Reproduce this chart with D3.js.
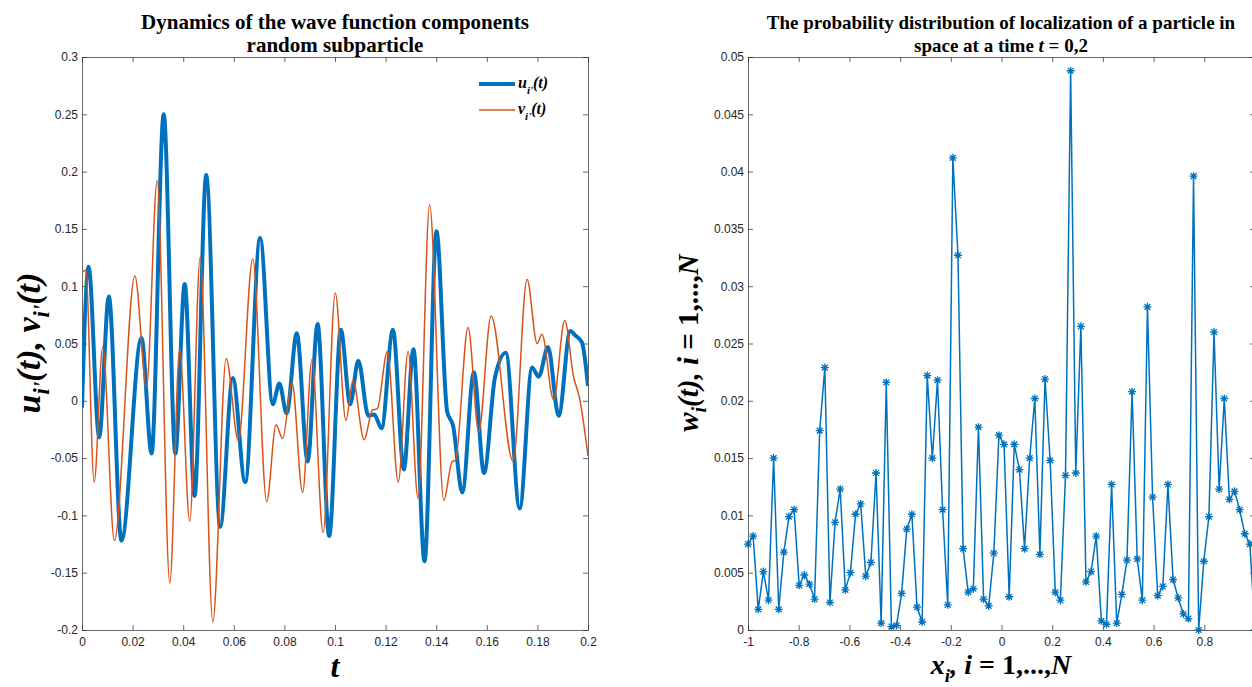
<!DOCTYPE html>
<html>
<head>
<meta charset="utf-8">
<script src="https://cdn.jsdelivr.net/npm/d3@7"></script>
<style>
    body { margin: 0; background: #fff; }
    svg { display: block; }
    .tick text { font-family: "Liberation Sans", Arial, sans-serif; font-size: 12px; fill: #262626; }
    .tick line, .domain { stroke: #262626; stroke-width: 0.7; }
    .serif { font-family: "Liberation Serif", "Times New Roman", serif; font-weight: bold; fill: #000; }
</style>
</head>
<body>
<svg id="chart" width="1252" height="687"></svg>
<script>
// left panel: u and v components (extrema)
var uT = [0, 0.0026, 0.0068, 0.0106, 0.0156, 0.0235, 0.0275, 0.0323, 0.0369, 0.0406, 0.0445, 0.0491,
          0.0546, 0.0596, 0.0645, 0.0704, 0.0754, 0.078, 0.0809, 0.0849, 0.0892, 0.0931, 0.0977, 0.1023,
          0.106, 0.1092, 0.1132, 0.1155, 0.1184, 0.1229, 0.1272, 0.1310, 0.1354, 0.1401, 0.1443, 0.1467,
          0.1503, 0.1549, 0.1589, 0.1632, 0.1675, 0.173, 0.1779, 0.1805, 0.1842, 0.1884, 0.193, 0.195,
          0.1976, 0.2];
var uV = [-0.006, 0.117, -0.032, 0.091, -0.122, 0.055, -0.046, 0.25, -0.046, 0.102, -0.083, 0.197,
          -0.110, 0.020, -0.071, 0.142, -0.003, 0.015, -0.011, 0.059, -0.053, 0.067, -0.118, 0.062,
          -0.003, 0.035, -0.013, -0.012, -0.024, 0.062, -0.060, 0.045, -0.140, 0.148, -0.009, -0.022,
          -0.080, 0.025, -0.063, 0.020, 0.042, -0.094, 0.029, 0.021, 0.047, -0.013, 0.061, 0.057,
          0.051, 0.013];

var vT = [0, 0.0015, 0.0048, 0.0082, 0.0128, 0.0209, 0.0255, 0.0297, 0.0347, 0.0386, 0.0426, 0.0467,
          0.0517, 0.057, 0.0618, 0.0675, 0.073, 0.0767, 0.0793, 0.083, 0.0872, 0.0909, 0.0953, 0.1001,
          0.1043, 0.1071, 0.1115, 0.1148, 0.1167, 0.1207, 0.125, 0.1289, 0.1328, 0.1374, 0.143, 0.1463,
          0.1476, 0.1526, 0.1568, 0.1617, 0.1704, 0.1759, 0.1799, 0.1818, 0.1864, 0.1908, 0.1943, 0.1966,
          0.2];
var vV = [0.112, 0.114, -0.071, 0.047, -0.122, 0.109, 0.012, 0.192, -0.159, 0.045, -0.105, 0.125,
          -0.193, 0.037, -0.035, 0.124, -0.088, -0.021, -0.033, 0.016, -0.080, 0.036, -0.115, 0.094,
          -0.017, 0.018, -0.034, -0.008, -0.007, 0.043, -0.071, 0.043, -0.085, 0.171, -0.087, -0.053,
          -0.052, 0.064, -0.027, 0.074, -0.053, 0.106, 0.050, 0.058, 0.001, 0.070, 0.021, 0.003,
          -0.048];

// right panel: probability at N = 100 grid points on [-1, 1]
var N = 100;
var wV = [0.0075, 0.0082, 0.0018, 0.0051, 0.0026, 0.0150, 0.0018, 0.0068, 0.0099, 0.0105,
          0.0039, 0.0048, 0.0040, 0.0027, 0.0174, 0.0229, 0.0024, 0.0094, 0.0123, 0.0035,
          0.0050, 0.0101, 0.0110, 0.0047, 0.0059, 0.0137, 0.0006, 0.0216, 0.0003, 0.0004,
          0.0032, 0.0088, 0.0101, 0.0020, 0.0007, 0.0222, 0.0150, 0.0218, 0.0105, 0.0022,
          0.0412, 0.0327, 0.0071, 0.0033, 0.0036, 0.0177, 0.0027, 0.0021, 0.0067, 0.0170,
          0.0162, 0.0029, 0.0162, 0.0140, 0.0071, 0.0150, 0.0202, 0.0066, 0.0219, 0.0148,
          0.0033, 0.0026, 0.0135, 0.0488, 0.0137, 0.0265, 0.0042, 0.0051, 0.0082, 0.0008,
          0.0005, 0.0127, 0.0006, 0.0031, 0.0061, 0.0208, 0.0062, 0.0026, 0.0282, 0.0116,
          0.0030, 0.0038, 0.0127, 0.0044, 0.0028, 0.0014, 0.0010, 0.0396, 0.0000, 0.0060,
          0.0099, 0.0260, 0.0123, 0.0202, 0.0114, 0.0121, 0.0105, 0.0084, 0.0075, 0.0000];
var wX = d3.range(N).map(function (i) { return -1 + 2 * i / (N - 1); });

var leftXTicks = [0, 0.02, 0.04, 0.06, 0.08, 0.1, 0.12, 0.14, 0.16, 0.18, 0.2];
var leftYTicks = [-0.2, -0.15, -0.1, -0.05, 0, 0.05, 0.1, 0.15, 0.2, 0.25, 0.3];
var rightXTicks = [-1, -0.8, -0.6, -0.4, -0.2, 0, 0.2, 0.4, 0.6, 0.8];
var rightYTicks = [0, 0.005, 0.01, 0.015, 0.02, 0.025, 0.03, 0.035, 0.04, 0.045, 0.05];

var blue = '#0072BD', orange = '#D95319';

var svg = d3.select('#chart');

function fmt(d) {
    return String(+d.toFixed(4)).replace('\u2212', '-');
}

// axes box with inward ticks on all sides
function drawAxes(x, y, xt, yt, id) {
    var g = svg.append('g');
    var x0 = x.range()[0], x1 = x.range()[1], y0 = y.range()[0], y1 = y.range()[1];

    g.append('g').attr('transform', 'translate(0,' + y0 + ')')
        .call(d3.axisBottom(x).tickValues(xt).tickSizeInner(-5).tickSizeOuter(0).tickPadding(7).tickFormat(fmt));
    g.append('g').attr('transform', 'translate(0,' + y1 + ')')
        .call(d3.axisTop(x).tickValues(xt).tickSizeInner(-5).tickSizeOuter(0).tickFormat(''));
    g.append('g').attr('transform', 'translate(' + x0 + ',0)')
        .call(d3.axisLeft(y).tickValues(yt).tickSizeInner(-5).tickSizeOuter(0).tickPadding(4).tickFormat(fmt));
    g.append('g').attr('transform', 'translate(' + x1 + ',0)')
        .call(d3.axisRight(y).tickValues(yt).tickSizeInner(-5).tickSizeOuter(0).tickFormat(''));

    svg.append('clipPath').attr('id', id)
        .append('rect')
        .attr('x', x0).attr('y', y1)
        .attr('width', x1 - x0).attr('height', y0 - y1);
    return g;
}

// ---------- left panel ----------
var xL = d3.scaleLinear().domain([0, 0.2]).range([82, 588]);
var yL = d3.scaleLinear().domain([-0.2, 0.3]).range([630, 57]);
drawAxes(xL, yL, leftXTicks, leftYTicks, 'clipL');

var lineL = d3.line()
    .x(function (d) { return xL(d[0]); })
    .y(function (d) { return yL(d[1]); })
    .curve(d3.curveMonotoneX);

svg.append('path')
    .datum(uT.map(function (t, i) { return [t, uV[i]]; }))
    .attr('clip-path', 'url(#clipL)')
    .attr('d', lineL)
    .attr('fill', 'none')
    .attr('stroke', blue)
    .attr('stroke-width', 4);

svg.append('path')
    .datum(vT.map(function (t, i) { return [t, vV[i]]; }))
    .attr('clip-path', 'url(#clipL)')
    .attr('d', lineL)
    .attr('fill', 'none')
    .attr('stroke', orange)
    .attr('stroke-width', 1.5);

// legend
var legend = [{name: 'u', color: blue, w: 4, y: 84}, {name: 'v', color: orange, w: 1.5, y: 110}];
legend.forEach(function (l) {
    svg.append('line')
        .attr('x1', 479).attr('x2', 515)
        .attr('y1', l.y).attr('y2', l.y)
        .attr('stroke', l.color).attr('stroke-width', l.w);
    var t = svg.append('text').attr('class', 'serif')
        .attr('x', 518).attr('y', l.y + 4)
        .style('font-size', '16px').style('font-style', 'italic');
    t.append('tspan').text(l.name);
    t.append('tspan').attr('dy', 6).style('font-size', '11px').text("i'");
    t.append('tspan').attr('dy', -6).text('(t)');
});

// titles
function title(cx, size, lines) {
    lines.forEach(function (parts, i) {
        var t = svg.append('text').attr('class', 'serif')
            .attr('x', cx).attr('y', 29 + i * 23)
            .attr('text-anchor', 'middle')
            .style('font-size', size + 'px');
        parts.forEach(function (p) {
            t.append('tspan').style('font-style', p.it ? 'italic' : 'normal').text(p.s);
        });
    });
}
title(335, 21, [[{s: 'Dynamics of the wave function components'}], [{s: 'random subparticle'}]]);
title(1001, 19, [[{s: 'The probability distribution of localization of a particle in'}],
                 [{s: 'space at a time '}, {s: 't', it: true}, {s: ' = 0,2'}]]);

// axis labels
var ylabL = svg.append('text').attr('class', 'serif')
    .attr('transform', 'translate(40,343) rotate(-90)')
    .attr('text-anchor', 'middle')
    .style('font-size', '34px').style('font-style', 'italic');
ylabL.append('tspan').text('u');
ylabL.append('tspan').attr('dy', 9).style('font-size', '23px').text("i'");
ylabL.append('tspan').attr('dy', -9).text('(t), v');
ylabL.append('tspan').attr('dy', 9).style('font-size', '23px').text("i'");
ylabL.append('tspan').attr('dy', -9).text('(t)');

svg.append('text').attr('class', 'serif')
    .attr('x', 335).attr('y', 677)
    .attr('text-anchor', 'middle')
    .style('font-size', '32px').style('font-style', 'italic')
    .text('t');

// ---------- right panel ----------
var xR = d3.scaleLinear().domain([-1, 1]).range([748, 1255]);
var yR = d3.scaleLinear().domain([0, 0.05]).range([630, 57]);
drawAxes(xR, yR, rightXTicks, rightYTicks, 'clipR');

var lineR = d3.line()
    .x(function (d, i) { return xR(wX[i]); })
    .y(function (d) { return yR(d); });

svg.append('path')
    .datum(wV)
    .attr('d', lineR)
    .attr('fill', 'none')
    .attr('stroke', blue)
    .attr('stroke-width', 1.5);

var star = 'M-4,0H4M0,-4V4M-2.9,-2.9L2.9,2.9M-2.9,2.9L2.9,-2.9';
svg.append('g').selectAll('path')
    .data(wV)
    .enter().append('path')
    .attr('transform', function (d, i) { return 'translate(' + xR(wX[i]) + ',' + yR(d) + ')'; })
    .attr('d', star)
    .attr('fill', 'none')
    .attr('stroke', blue)
    .attr('stroke-width', 1.3);

var ylabR = svg.append('text').attr('class', 'serif')
    .attr('transform', 'translate(698,343) rotate(-90)')
    .attr('text-anchor', 'middle')
    .style('font-size', '29px').style('font-style', 'italic');
ylabR.append('tspan').text('w');
ylabR.append('tspan').attr('dy', 8).style('font-size', '20px').text('i');
ylabR.append('tspan').attr('dy', -8).text('(t), i');
ylabR.append('tspan').style('font-style', 'normal').text(' = 1,...,');
ylabR.append('tspan').text('N');

var xlabR = svg.append('text').attr('class', 'serif')
    .attr('x', 1001).attr('y', 674)
    .attr('text-anchor', 'middle')
    .style('font-size', '28px').style('font-style', 'italic');
xlabR.append('tspan').text('x');
xlabR.append('tspan').attr('dy', 8).style('font-size', '19px').text('i');
xlabR.append('tspan').attr('dy', -8).text(', i');
xlabR.append('tspan').style('font-style', 'normal').text(' = 1,...,');
xlabR.append('tspan').text('N');
</script>
</body>
</html>
